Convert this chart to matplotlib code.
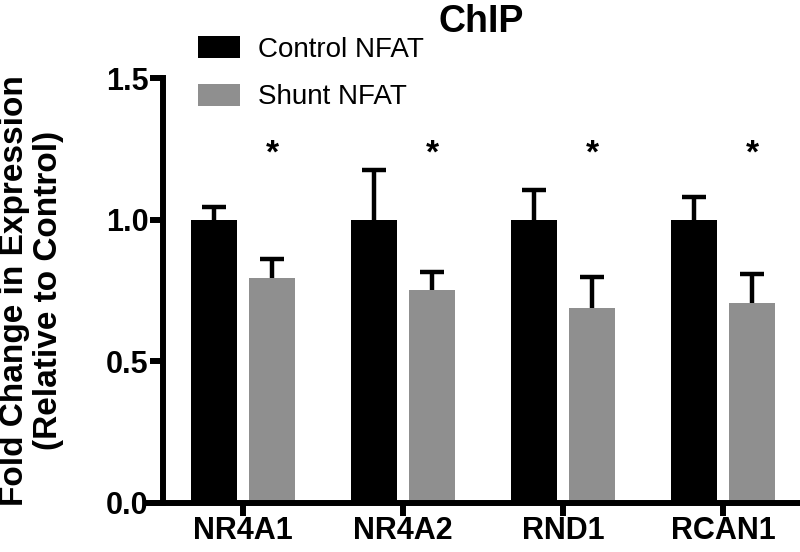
import numpy as np
import matplotlib
matplotlib.use("Agg")
import matplotlib.pyplot as plt

plt.rcParams['font.family'] = ['Liberation Sans', 'DejaVu Sans']

# Dane
genes = ["NR4A1", "NR4A2", "RND1", "RCAN1"]
control_mean = [1.0, 1.0, 1.0, 1.0]
control_err = [0.046, 0.174, 0.103, 0.081]
shunt_mean = [0.794, 0.752, 0.688, 0.706]
shunt_err = [0.066, 0.064, 0.110, 0.104]
star_y = [1.232, 1.232, 1.232, 1.232]
series_labels = ["Control NFAT", "Shunt NFAT"]

fig = plt.figure(figsize=(8.0, 5.52), dpi=100)
ax = fig.add_axes([163 / 800, 1 - 503 / 552, 636 / 800, 425 / 552])

x = np.arange(len(genes))
width = 0.2875
offset = 0.184
colors = ["#000000", "#8f8f8f"]

for means, errs, sign, color, label in [
    (control_mean, control_err, -1, colors[0], series_labels[0]),
    (shunt_mean, shunt_err, 1, colors[1], series_labels[1]),
]:
    pos = x + sign * offset
    ax.bar(pos, means, width=width, color=color, label=label, zorder=2)
    _, caps, _ = ax.errorbar(pos, means, yerr=[np.zeros(len(means)), errs],
                             fmt="none", ecolor="black", elinewidth=3.2,
                             capsize=8.3, capthick=3.2, zorder=3)
    # tylko górne wąsy
    for cap in caps:
        if np.allclose(cap.get_ydata(), means):
            cap.set_visible(False)

for xi, yi in zip(x + offset, star_y):
    ax.text(xi, yi, "*", ha="center", va="center", fontsize=24, fontweight="bold")

ax.set_xlim(-0.5, 3.475)
ax.set_ylim(0, 1.5)
ax.set_yticks([0.0, 0.5, 1.0, 1.5])
ax.set_yticklabels(["0.0", "0.5", "1.0", "1.5"])
ax.set_xticks(x)
ax.set_xticklabels(genes)

for side in ["top", "right"]:
    ax.spines[side].set_visible(False)
for side in ["left", "bottom"]:
    ax.spines[side].set_linewidth(4.3)
    ax.spines[side].set_capstyle("projecting")
ax.spines["bottom"].set_bounds(-0.5 - 16 / 160, 3.475)

ax.tick_params(axis="both", direction="out", length=9.5, width=4.3,
               labelsize=22, color="black")
ax.tick_params(axis="y", pad=1)
ax.tick_params(axis="x", pad=0)
for lbl in ax.get_xticklabels() + ax.get_yticklabels():
    lbl.set_fontweight("bold")

ax.set_ylabel("Fold Change in Expression\n(Relative to Control)",
              fontsize=24, fontweight="bold", labelpad=30, linespacing=1.12)

ax.set_title("ChIP", fontsize=27, fontweight="bold", pad=33)

ax.legend(loc="upper left", bbox_to_anchor=(198 / 800, 1 - 36 / 552),
          bbox_transform=fig.transFigure, frameon=False, fontsize=20,
          handlelength=1.5, handleheight=0.86, handletextpad=0.65,
          labelspacing=0.75, borderpad=0, borderaxespad=0)

fig.savefig("out.png", dpi=100)
